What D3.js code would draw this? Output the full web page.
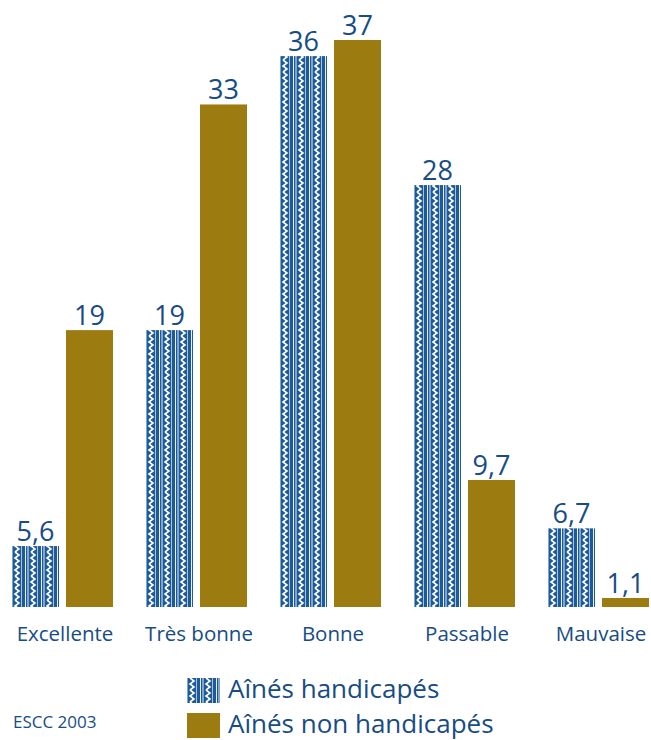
<!DOCTYPE html>
<html>
<head>
<meta charset="utf-8">
<script src="https://cdn.jsdelivr.net/npm/d3@7"></script>
<style>
  body { margin: 0; background: #fff; }
  text { font-family: "Open Sans", "Noto Sans", sans-serif; fill: #174c84; }
</style>
</head>
<body>
<div id="chart"></div>
<script>
var categories = ["Excellente", "Très bonne", "Bonne", "Passable", "Mauvaise"];
var seriesNames = ["Aînés handicapés", "Aînés non handicapés"];
var handicapes = [5.6, 19, 36, 28, 6.7];
var nonHandicapes = [19, 33, 37, 9.7, 1.1];
var source = "ESCC 2003";

(function() {
    var width = 651, height = 740;
    var blue = "#1d5a97", gold = "#9c7b10";

    var svg = d3.select("#chart").append("svg")
        .attr("width", width)
        .attr("height", height);

    // motif rayé bleu avec zigzag blanc
    var defs = svg.append("defs");
    var pat = defs.append("pattern")
        .attr("id", "motif")
        .attr("patternUnits", "userSpaceOnUse")
        .attr("width", 16).attr("height", 12)
        .attr("x", 12).attr("y", 0);
    pat.append("rect").attr("width", 16).attr("height", 12).attr("fill", blue);
    pat.append("rect").attr("x", 1).attr("width", 1).attr("height", 12).attr("fill", "#e8f0f8");
    pat.append("rect").attr("x", 3).attr("width", 2).attr("height", 12).attr("fill", "#7fa6cf");
    pat.append("polyline")
        .attr("points", "7,0 11,3 7,6 11,9 7,12")
        .attr("fill", "none").attr("stroke", "#ffffff").attr("stroke-width", 1.6);
    pat.append("rect").attr("x", 13).attr("width", 1).attr("height", 12).attr("fill", "#a9c3df");

    var x0 = d3.scaleBand()
        .domain(categories)
        .range([12, 12 + 134 * 5])
        .paddingInner(0);
    var x1 = d3.scaleBand()
        .domain(seriesNames)
        .range([0, 101])
        .paddingInner(0.13);

    var baseline = 607;
    var y = d3.scaleLinear()
        .domain([1.82, 37])
        .range([baseline, 40]);

    var data = categories.map(function(c, i) {
        return [
            {cat: c, serie: seriesNames[0], v: handicapes[i]},
            {cat: c, serie: seriesNames[1], v: nonHandicapes[i]}
        ];
    });

    var fmt = function(v) { return String(v).replace(".", ","); };
    var barTop = function(d) { return Math.min(y(d.v), baseline - 9); };

    var groups = svg.selectAll(".groupe")
        .data(data)
        .enter().append("g")
        .attr("class", "groupe")
        .attr("transform", function(d) { return "translate(" + x0(d[0].cat) + ",0)"; });

    groups.selectAll("rect")
        .data(function(d) { return d; })
        .enter().append("rect")
        .attr("x", function(d) { return x1(d.serie); })
        .attr("width", x1.bandwidth())
        .attr("y", barTop)
        .attr("height", function(d) { return baseline - barTop(d); })
        .attr("fill", function(d) { return d.serie === seriesNames[0] ? "url(#motif)" : gold; });

    groups.selectAll(".val")
        .data(function(d) { return d; })
        .enter().append("text")
        .attr("class", "val")
        .attr("x", function(d) { return x1(d.serie) + x1.bandwidth() / 2; })
        .attr("y", function(d) { return barTop(d) - 5; })
        .attr("text-anchor", "middle")
        .style("font-size", "27px")
        .text(function(d) { return fmt(d.v); });

    // étiquettes des catégories
    svg.selectAll(".cat")
        .data(categories)
        .enter().append("text")
        .attr("class", "cat")
        .attr("x", function(d) { return x0(d) + 53; })
        .attr("y", 641)
        .attr("text-anchor", "middle")
        .style("font-size", "20.5px")
        .text(function(d) { return d; });

    // légende
    var legend = svg.selectAll(".leg")
        .data(seriesNames)
        .enter().append("g")
        .attr("class", "leg")
        .attr("transform", function(d, i) { return "translate(187," + (678 + i * 35) + ")"; });
    legend.append("rect")
        .attr("width", 33).attr("height", 25)
        .attr("fill", function(d, i) { return i === 0 ? "url(#motif)" : gold; });
    legend.append("text")
        .attr("x", 41).attr("y", 20)
        .style("font-size", "26px")
        .text(function(d) { return d; });

    svg.append("text")
        .attr("x", 13).attr("y", 728)
        .style("font-size", "17px")
        .text(source);
})();
</script>
</body>
</html>
